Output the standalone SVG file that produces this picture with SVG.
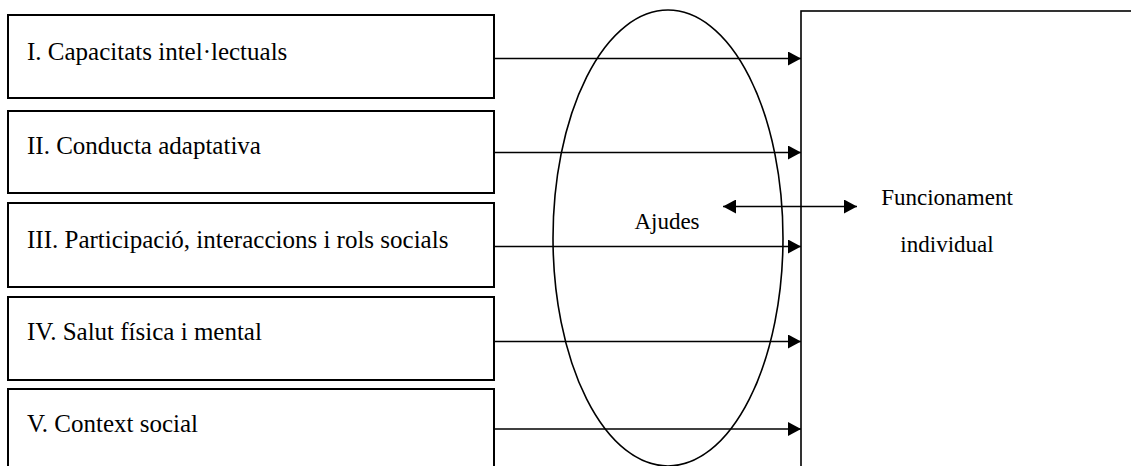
<svg xmlns="http://www.w3.org/2000/svg" width="1131" height="466" viewBox="0 0 1131 466">
<style>
.box{fill:#fff;stroke:#000;stroke-width:2}
.lbl{font-family:"Liberation Serif","Times New Roman",serif;font-size:25px;fill:#000}
.rl{font-family:"Liberation Serif","Times New Roman",serif;font-size:23px;fill:#000}
.con{stroke:#000;stroke-width:1.6;fill:none}
</style>
<defs>
<marker id="ah" markerUnits="userSpaceOnUse" markerWidth="14" markerHeight="14" refX="13" refY="7" orient="auto">
<path d="M0,0 L13,7 L0,14 z" fill="#000"/>
</marker>
<marker id="as" markerUnits="userSpaceOnUse" markerWidth="14" markerHeight="14" refX="0" refY="7" orient="auto">
<path d="M13,0 L0,7 L13,14 z" fill="#000"/>
</marker>
</defs>
<g id="funcionament">
<rect x="801" y="11" width="400" height="500" fill="#fff" stroke="#000" stroke-width="1.6"/>
<text class="rl" x="947" y="205" text-anchor="middle">Funcionament</text>
<text class="rl" x="947" y="252" text-anchor="middle">individual</text>
</g>
<g id="ajudes">
<ellipse cx="668" cy="238" rx="115" ry="228" fill="none" stroke="#000" stroke-width="1.6"/>
<text class="rl" x="667" y="229" text-anchor="middle">Ajudes</text>
</g>
<g id="n1"><rect class="box" x="8" y="15" width="486" height="83"/><text class="lbl" x="27" y="60">I. Capacitats intel·lectuals</text></g>
<g id="n2"><rect class="box" x="8" y="111" width="486" height="82"/><text class="lbl" x="27" y="154">II. Conducta adaptativa</text></g>
<g id="n3"><rect class="box" x="8" y="203" width="486" height="84"/><text class="lbl" x="27" y="248">III. Participació, interaccions i rols socials</text></g>
<g id="n4"><rect class="box" x="8" y="297" width="486" height="83"/><text class="lbl" x="27" y="340">IV. Salut física i mental</text></g>
<g id="n5"><rect class="box" x="8" y="389" width="486" height="100"/><text class="lbl" x="27" y="432">V. Context social</text></g>
<g id="connectors">
<line class="con" x1="494" y1="58.5" x2="801" y2="58.5" marker-end="url(#ah)"/>
<line class="con" x1="494" y1="152.5" x2="801" y2="152.5" marker-end="url(#ah)"/>
<line class="con" x1="494" y1="246.5" x2="801" y2="246.5" marker-end="url(#ah)"/>
<line class="con" x1="494" y1="341.5" x2="801" y2="341.5" marker-end="url(#ah)"/>
<line class="con" x1="494" y1="429" x2="801" y2="429" marker-end="url(#ah)"/>
<line class="con" x1="723" y1="206.5" x2="857" y2="206.5" marker-start="url(#as)" marker-end="url(#ah)"/>
</g>
</svg>
